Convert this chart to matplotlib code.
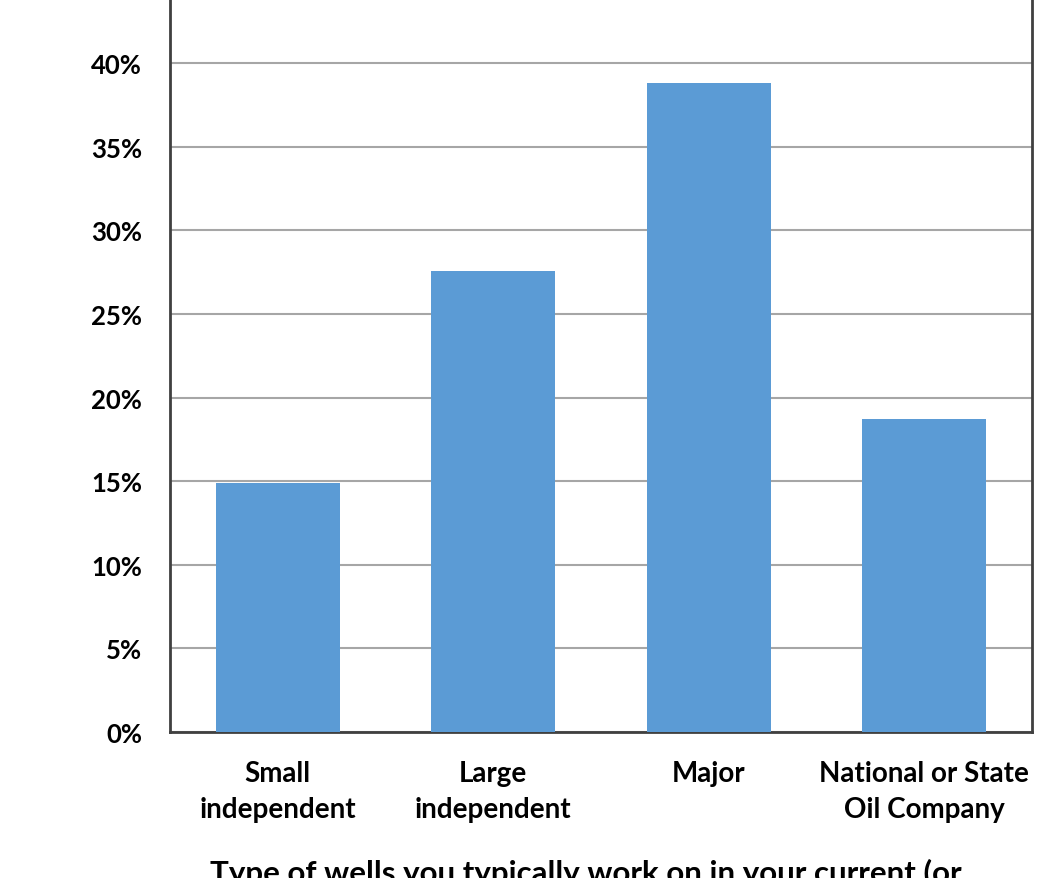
import matplotlib.pyplot as plt
from matplotlib.ticker import PercentFormatter

# Survey shares by company type
categories = ['Small\nindependent', 'Large\nindependent', 'Major', 'National or State\nOil Company']
shares = [14.9, 27.6, 38.8, 18.7]
y_ticks = [0, 5, 10, 15, 20, 25, 30, 35, 40]

plt.rcParams['font.family'] = ['Lato', 'DejaVu Sans']
plt.rcParams['font.weight'] = 'bold'

fig = plt.figure(figsize=(10.43, 8.79), dpi=100)
ax = fig.add_axes([0.163, 0.1661, 0.8265, 0.856])

ax.bar(range(len(categories)), shares, width=0.575, color='#5B9BD5', zorder=3)
ax.set_xlim(-0.5, len(categories) - 0.5)
ax.set_ylim(0, 45)
ax.set_yticks(y_ticks)
ax.yaxis.set_major_formatter(PercentFormatter(decimals=0))
ax.set_xticks(range(len(categories)))
ax.set_xticklabels(categories, linespacing=1.5)

ax.grid(axis='y', color='#A6A6A6', linewidth=1.5, zorder=0)
ax.tick_params(axis='both', length=0)
ax.tick_params(axis='y', pad=20, labelsize=18.5)
ax.tick_params(axis='x', pad=20, labelsize=20)
for s in ax.spines.values():
    s.set_color('#404040')
    s.set_linewidth(2)

fig.text(0.562, 1 - 859 / 879, 'Type of wells you typically work on in your current (or',
         ha='center', va='top', fontsize=22.5, fontweight='bold')

fig.savefig('out.png', dpi=100)
